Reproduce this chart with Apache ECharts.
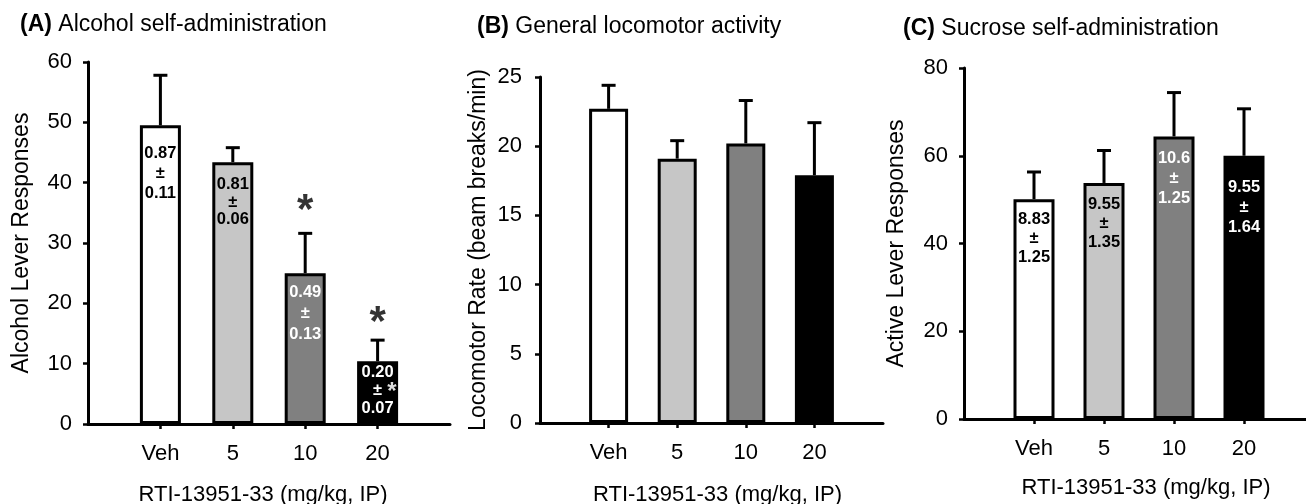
<!DOCTYPE html>
<html>
<head>
<meta charset="utf-8">
<script src="https://cdn.jsdelivr.net/npm/echarts@6/dist/echarts.min.js"></script>
<style>
  html, body { margin: 0; padding: 0; background: #fff; }
  #chart { width: 1306px; height: 504px; }
</style>
</head>
<body>
<div id="chart"></div>
<script>
// doses on the x axis (plotted at positions 1..4)
const categories = ['Veh', '5', '10', '20'];

// (A) alcohol self-administration
const alcoholMean = [49.5, 43.4, 25.0, 10.4];
const alcoholSem = [8.3, 2.4, 6.6, 3.5];
const alcoholSig = ['', '', '*', '*'];
const alcoholRatioMean = ['0.87', '0.81', '0.49', '0.20'];
const alcoholRatioSem = ['0.11', '0.06', '0.13', '0.07'];

// (B) general locomotor activity
const locoMean = [22.7, 19.1, 20.2, 17.9];
const locoSem = [1.7, 1.3, 3.1, 3.8];

// (C) sucrose self-administration
const sucroseMean = [50.1, 53.8, 64.4, 60.0];
const sucroseSem = [6.2, 7.4, 10.0, 10.7];
const sucroseRatioMean = ['8.83', '9.55', '10.6', '9.55'];
const sucroseRatioSem = ['1.25', '1.35', '1.25', '1.64'];

const titles = ['Alcohol self-administration', 'General locomotor activity', 'Sucrose self-administration'];
const panelTags = ['(A)', '(B)', '(C)'];
const yNames = ['Alcohol Lever Responses', 'Locomotor Rate (beam breaks/min)', 'Active Lever Responses'];
const xName = 'RTI-13951-33 (mg/kg, IP)';
const yMax = [60, 25, 80];
const yStep = [10, 5, 20];

const FONT = '"Liberation Sans", Arial, sans-serif';
const fills = ['#ffffff', '#c6c6c6', '#808080', '#000000'];
const labelColors = ['#000', '#000', '#fff', '#fff'];

const grids = [
  { left: 88, top: 62, width: 362, height: 362 },
  { left: 540, top: 77, width: 343, height: 346 },
  { left: 964, top: 68, width: 350, height: 351 }
];
const barWidths = [41, 39, 41];
const xNamePad = [[0, 12, 0, 0], [0, 0, 0, 12], [0, 0, 0, 14]];
// [distance, lineHeight] for the ratio labels inside bars
const labelLayout = [
  [[18, 20], [14, 17.5], [9, 21], [2, 18]],
  null,
  [[11, 19], [12, 19], [12, 20], [22, 20]]
];
const sigDistance = [null, null, 0, -5];

const chart = echarts.init(document.getElementById('chart'));

function barSeries(i, means, rMean, rSem) {
  return {
    type: 'bar',
    xAxisIndex: i,
    yAxisIndex: i,
    barWidth: barWidths[i],
    z: 3,
    data: means.map((m, k) => {
      const item = {
        value: [k + 1, m],
        itemStyle: { color: fills[k], borderColor: '#000', borderWidth: 3 }
      };
      if (rMean) {
        let txt = rMean[k] + '\n±\n' + rSem[k];
        if (i === 0 && k === 3) txt = rMean[k] + '\n{g|*}±{s|*}\n' + rSem[k];
        item.label = {
          show: true,
          position: 'insideTop',
          distance: labelLayout[i][k][0],
          lineHeight: labelLayout[i][k][1],
          color: labelColors[k],
          fontSize: 16.5,
          fontWeight: 'bold',
          fontFamily: FONT,
          formatter: txt,
          rich: {
            g: { color: 'rgba(0,0,0,0)', fontSize: 24, padding: [5, 5, 0, 0], lineHeight: 18 },
            s: { color: '#dddddd', fontSize: 24, padding: [5, 0, 0, 5], lineHeight: 18 }
          }
        };
      }
      return item;
    })
  };
}

function errorSeries(i, means, sems) {
  return {
    type: 'custom',
    xAxisIndex: i,
    yAxisIndex: i,
    z: 2,
    silent: true,
    data: means.map((m, k) => [k + 1, m, m + sems[k]]),
    encode: { x: 0, y: 1 },
    renderItem: (params, api) => {
      const base = api.coord([api.value(0), api.value(1)]);
      const top = api.coord([api.value(0), api.value(2)]);
      const st = { stroke: '#000', lineWidth: 3 };
      return {
        type: 'group',
        children: [
          { type: 'line', shape: { x1: base[0], y1: base[1], x2: top[0], y2: top[1] }, style: st },
          { type: 'line', shape: { x1: top[0] - 7, y1: top[1], x2: top[0] + 7, y2: top[1] }, style: st }
        ]
      };
    }
  };
}

function sigSeries(i, means, sems, sig) {
  const data = [];
  means.forEach((m, k) => {
    if (sig[k]) {
      data.push({ value: [k + 1, m + sems[k]], label: { distance: sigDistance[k], formatter: sig[k] } });
    }
  });
  return {
    type: 'scatter',
    xAxisIndex: i,
    yAxisIndex: i,
    symbolSize: 1,
    itemStyle: { color: 'rgba(0,0,0,0)' },
    silent: true,
    data: data,
    label: {
      show: true,
      position: 'top',
      color: '#000',
      fontSize: 42,
      fontWeight: 'bold',
      fontFamily: FONT
    }
  };
}

const option = {
  animation: false,
  backgroundColor: '#fff',
  textStyle: { fontFamily: FONT },
  title: titles.map((t, i) => ({
    text: '{b|' + panelTags[i] + '} ' + t,
    left: [20, 477, 903][i],
    top: [13, 15, 17][i],
    padding: 0,
    textStyle: {
      fontSize: 23, fontWeight: 'normal', color: '#000', fontFamily: FONT,
      rich: { b: { fontSize: 23, fontWeight: 'bold', color: '#000', fontFamily: FONT } }
    }
  })),
  grid: grids.map(g => Object.assign({ containLabel: false, outerBoundsMode: 'none' }, g)),
  xAxis: grids.map((g, i) => ({
    type: 'value',
    gridIndex: i,
    min: 0,
    max: 5,
    interval: 1,
    name: xName,
    nameLocation: 'middle',
    nameGap: [60, 61, 58][i],
    nameTextStyle: { fontSize: 22, color: '#000', fontFamily: FONT, padding: xNamePad[i] },
    axisLine: { show: true, onZero: false, lineStyle: { color: '#000', width: 3 } },
    axisTick: { show: true, customValues: [1, 2, 3, 4], length: 5, lineStyle: { color: '#000', width: 2.5 } },
    axisLabel: {
      customValues: [1, 2, 3, 4],
      formatter: v => categories[v - 1] || '',
      margin: 19, fontSize: 22, color: '#000', fontFamily: FONT
    },
    splitLine: { show: false }
  })),
  yAxis: grids.map((g, i) => ({
    type: 'value',
    gridIndex: i,
    min: 0,
    max: yMax[i],
    interval: yStep[i],
    name: yNames[i],
    nameLocation: 'middle',
    nameGap: [55, 50, 56][i],
    nameTextStyle: { fontSize: 23, color: '#000', fontFamily: FONT },
    axisLine: { show: true, lineStyle: { color: '#000', width: 3 } },
    axisTick: { show: true, length: 5, lineStyle: { color: '#000', width: 2.5 } },
    axisLabel: { margin: [16, 18, 16][i], fontSize: 22, color: '#000', fontFamily: FONT },
    splitLine: { show: false }
  })),
  series: [
    errorSeries(0, alcoholMean, alcoholSem),
    barSeries(0, alcoholMean, alcoholRatioMean, alcoholRatioSem),
    sigSeries(0, alcoholMean, alcoholSem, alcoholSig),
    errorSeries(1, locoMean, locoSem),
    barSeries(1, locoMean, null, null),
    errorSeries(2, sucroseMean, sucroseSem),
    barSeries(2, sucroseMean, sucroseRatioMean, sucroseRatioSem)
  ]
};

chart.setOption(option);
</script>
</body>
</html>
